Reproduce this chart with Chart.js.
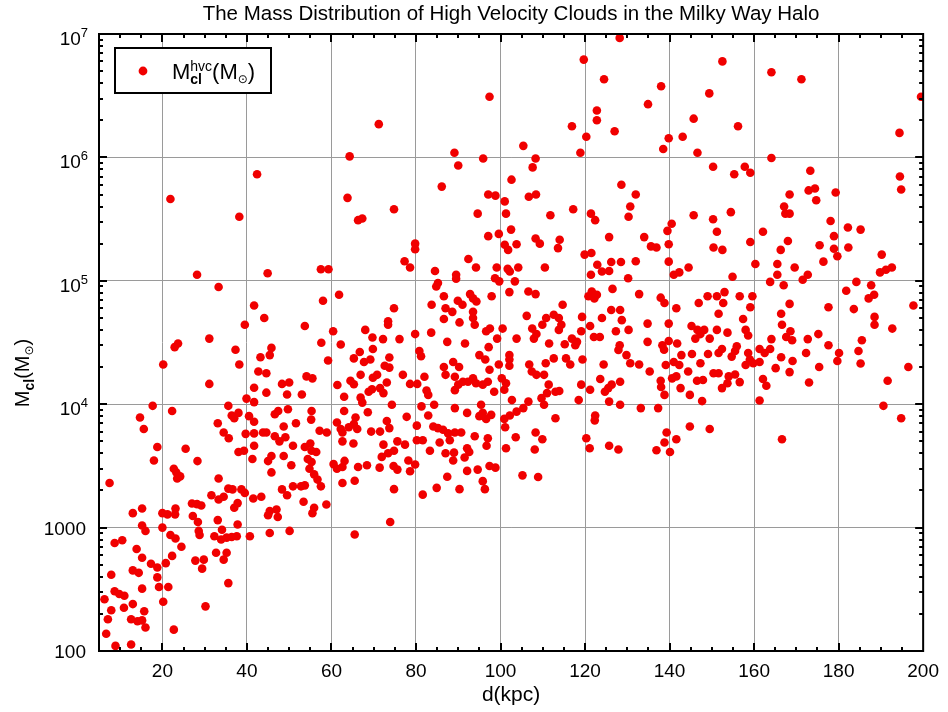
<!DOCTYPE html>
<html>
<head>
<meta charset="utf-8">
<script src="https://cdn.jsdelivr.net/npm/chart.js@4.4.1/dist/chart.umd.min.js"></script>
<style>
  html, body { margin: 0; padding: 0; background: #fff; }
  #wrap { width: 948px; height: 712px; }
</style>
</head>
<body>
<div id="wrap"><canvas id="massChart" width="948" height="712"></canvas></div>
<script>
// distance from the Sun (kpc) and cloud mass (solar masses)
const distanceKpc = [
  21.9, 38.2, 42.4, 28.2, 33.3, 44.9, 57.5, 59.3, 61.8, 58.0, 64.3, 63.8, 66.3, 67.3,
  71.2, 97.4, 89.1, 95.9, 90.0, 105.4, 108.3, 107.6, 118.9, 120.3,
  116.9, 119.7, 128.2, 124.5, 122.8, 122.8, 127.0, 134.9, 74.8, 86.1,
  94.6, 97.1, 98.8, 101.0, 102.6, 101.3, 106.7, 108.4, 111.8, 117.2,
  102.5, 121.4, 122.4, 128.6, 132.0, 130.7, 130.3,
  138.0, 152.5, 164.1, 171.2, 149.4, 145.7, 143.1, 139.8, 138.5, 146.6,
  156.2, 164.1, 194.4, 199.5, 150.3, 155.3, 157.8, 159.1, 173.3, 172.9,
  174.4, 174.7, 168.4, 179.3, 194.5, 194.8, 167.1, 167.4, 168.4, 154.5,
  145.7, 150.3, 140.5, 178.1, 182.2, 185.2,
  97.1, 99.6, 79.8, 79.8, 77.3, 78.6, 84.5, 92.4, 94.2, 89.5,
  89.5, 101.0, 101.8, 103.8, 99.1, 101.7, 102.2, 104.2, 98.7, 99.7,
  103.4, 108.3, 109.3, 114.0, 113.6, 110.5, 125.7, 134.0, 119.9, 121.5,
  122.9, 124.0, 126.2, 128.5, 125.7, 121.4, 132.0, 130.2, 135.6,
  74.8, 73.4, 73.4, 72.2, 76.1, 79.8, 73.7, 72.6, 73.7, 70.8,
  73.1, 71.5, 72.3, 76.9, 78.6, 80.3, 80.8, 81.2, 82.0, 82.5,
  82.9, 83.7, 85.2, 84.8, 86.6, 87.0, 88.6, 86.6, 89.9, 91.0,
  92.8, 93.5, 94.3, 93.5, 93.5, 93.9, 90.3, 83.6, 87.4, 91.6,
  97.9, 102.1, 106.6, 108.3, 96.6, 97.5, 100.5, 99.2, 97.2, 95.0,
  96.4, 102.1, 102.1, 102.1, 99.6, 97.4, 103.8, 106.2, 107.5, 108.5,
  107.9, 109.9, 110.8, 112.6, 113.8, 114.4, 113.8, 114.7, 111.5, 115.2,
  116.9, 118.1, 119.1, 119.3, 117.7, 121.2, 122.1, 123.5, 121.6, 122.8,
  120.8, 122.2, 126.5, 126.2, 128.3, 124.0, 128.7, 127.3, 130.3, 132.8,
  134.8, 134.8, 128.2, 127.9, 129.8, 124.4, 130.7, 132.8, 135.3, 119.4,
  115.5, 116.5, 110.7, 112.6, 106.8, 107.4, 108.5, 110.3, 100.3, 101.3,
  100.9, 98.5, 95.8, 97.0, 93.5, 92.3, 94.2, 89.2, 90.0, 91.1,
  88.8, 90.2, 86.6, 87.0, 89.2, 111.4, 111.0, 113.0, 113.9, 109.7,
  110.3, 119.1, 121.2, 123.6, 125.5, 126.3, 128.3, 124.7, 118.5, 125.7,
  128.3, 106.6, 102.7,
  74.3, 77.8, 73.1, 73.7, 71.5, 81.3, 82.9, 84.1, 85.2, 86.4,
  87.6, 89.2, 90.7, 88.0, 80.2, 84.3, 89.2, 92.1, 95.4, 95.8,
  95.0, 96.6, 97.8, 100.9, 102.2, 103.8, 105.4, 101.1, 93.9, 97.0,
  103.6, 108.3, 109.9, 113.0, 122.4, 122.3, 120.3, 133.2,
  139.5, 151.2, 162.1, 136.9, 139.8, 139.8, 141.0, 142.3, 144.5, 150.4,
  152.5, 154.9, 159.1, 160.3, 168.0, 166.3, 165.5, 165.5, 163.8, 169.6,
  171.5, 172.7, 175.5, 176.4, 178.9, 178.9, 179.7, 182.3, 190.2, 189.8,
  191.2, 192.6, 167.0, 137.9, 138.8, 141.6, 146.9, 149.0, 151.2, 153.0,
  152.7, 156.6, 159.6, 159.1, 151.6, 139.8, 157.4, 158.0, 158.6, 145.2,
  146.6, 148.2, 146.1, 147.3, 151.2, 153.7, 149.5, 139.8, 138.3, 138.7,
  141.8, 142.8, 145.3, 149.1, 151.6, 152.4, 154.7, 155.5, 155.9, 158.6,
  161.3, 162.5, 163.8, 164.1, 166.4, 166.6, 168.4, 167.6, 168.6, 169.0,
  166.4, 169.1, 172.7, 172.3, 175.2, 177.6, 177.6, 181.8, 184.2, 183.6,
  187.7, 188.4, 187.1, 188.5, 188.5, 192.7, 197.7, 185.5, 184.7, 180.1,
  179.7, 185.2, 196.5, 191.6, 190.6, 194.8, 175.4, 173.0, 168.4, 165.1,
  161.3, 159.8, 158.0, 159.0, 162.1, 162.9, 161.3, 154.0, 155.5, 153.7,
  156.6, 152.4, 150.4, 151.6, 146.5, 147.9, 144.4, 147.3, 147.7, 140.6,
  141.6, 137.9, 138.0, 138.8, 142.6, 144.8, 139.1, 141.0, 142.3, 137.3,
  144.8, 149.5, 139.3, 141.6, 166.6,
  41.7, 44.1, 39.5, 31.1, 22.9, 23.7, 20.2, 37.3, 38.2, 31.1,
  53.7, 60.4, 57.6, 62.2, 59.2, 45.8, 45.4, 43.2, 42.7, 44.6,
  41.7, 44.6, 48.3, 50.0, 49.5, 53.0, 54.1, 55.5, 68.0, 69.7,
  66.7, 65.3, 67.7, 69.2, 69.8, 66.9, 64.5, 65.3, 61.4, 63.0,
  66.9, 67.3, 69.8, 69.6, 68.8, 17.7, 14.7, 15.6, 22.3, 18.8,
  18.0, 25.5, 28.3, 22.7, 23.3, 23.5, 35.6, 36.4, 37.0, 38.0,
  39.9, 41.7, 40.5, 41.7, 33.1, 34.5, 35.7, 39.7, 41.7, 43.8,
  44.6, 41.7, 38.0, 39.3, 41.3, 45.0, 45.8, 45.8, 46.6, 47.4,
  49.7, 48.7, 46.6, 47.7, 49.1, 50.9, 51.6, 55.3, 55.2, 48.7,
  50.5, 53.7, 55.0, 55.3, 56.4, 54.4, 55.3, 54.8, 55.9, 57.2,
  58.9, 61.3, 62.2, 62.6, 64.1, 65.7, 65.3, 66.1, 63.0, 62.6,
  65.2, 69.4, 68.6, 60.5, 61.3, 62.6, 63.1, 66.3, 68.4,
  24.2, 33.3, 7.5, 65.5, 62.6, 31.6, 33.3, 34.5, 35.6, 36.6,
  38.7, 39.5, 41.5, 43.4, 48.3, 49.5, 50.9, 52.8, 53.7, 57.5,
  56.7, 53.4, 55.9, 55.5, 58.8, 45.4, 47.0, 47.3, 45.0, 37.8,
  37.0, 27.0, 28.2, 29.2, 27.2, 28.4, 28.6, 28.8, 20.0, 21.2,
  23.0, 23.1, 13.0, 15.2, 15.2, 16.0, 20.0, 21.9, 23.1, 24.5,
  22.3, 20.8, 18.8, 17.3, 15.2, 13.9, 8.7, 10.5, 7.9, 13.0,
  14.4, 18.8, 19.2, 21.4, 15.2, 8.7, 9.8, 11.0, 6.3, 7.9,
  10.9, 13.0, 15.7, 12.6, 14.1, 15.2, 7.1, 16.0, 6.7, 8.9,
  12.6, 22.7, 20.2, 30.2, 35.6, 27.8, 29.8, 29.4, 32.7, 34.5,
  35.2, 32.3, 33.9, 34.1, 35.2, 36.4, 37.6, 33.1, 37.8, 40.7,
  45.4, 50.1, 65.5,
  75.6, 77.4, 72.3, 80.2, 81.6, 85.6, 71.9, 73.4, 74.8, 78.2,
  79.8, 78.6, 71.4, 74.7, 75.6, 83.3, 87.0, 89.0, 88.8, 92.1,
  92.6, 91.5, 96.7, 101.3, 108.1, 121.1, 125.7, 127.9, 87.4, 92.1,
  94.6, 97.4, 98.8, 95.8, 96.3, 90.3, 84.9, 81.6, 74.8, 73.9,
  105.2, 108.9,
  138.8, 136.9, 140.1
];

const cloudMass = [
  4.6e5, 3.3e5, 7.3e5, 1.12e5, 8.9e4, 1.15e5, 1.24e5, 1.24e5, 7.7e4, 6.9e4, 1.02e6, 4.7e5, 3.1e5, 3.2e5,
  1.86e6, 3.1e6, 1.09e6, 9.8e5, 8.6e5, 1.24e6, 9.8e5, 8.3e5, 1.09e6, 1.47e6,
  1.79e6, 6.2e6, 9.3e6, 4.3e6, 2.4e6, 2.0e6, 1.63e6, 2.7e6, 3.8e5, 5.8e5,
  3.5e5, 5.0e5, 4.9e5, 4.4e5, 6.6e5, 3.5e5, 4.8e5, 5.0e5, 3.4e5, 3.8e5,
  2.6e5, 3.5e5, 3.1e5, 6.0e5, 5.0e5, 4.0e5, 3.3e5,
  3.77e6, 6.0e6, 4.9e6, 4.3e6, 3.3e6, 2.06e6, 1.47e6, 1.43e6, 1.17e6, 1.09e6,
  1.79e6, 9.9e5, 1.58e6, 3.1e6, 8.4e5, 7.3e5, 8.4e5, 7.5e5, 7.8e5, 5.4e5,
  5.6e5, 4.5e5, 5.0e5, 5.2e5, 7.0e5, 5.5e5, 4.0e5, 3.5e5, 3.5e5, 3.6e5,
  3.4e5, 3.15e5, 2.9e5, 3.05e5, 2.7e5, 2.6e5,
  2.3e5, 2.4e5, 2.0e5, 1.8e5, 1.44e5, 1.28e5, 1.2e5, 1.5e5, 1.28e5, 1.12e5,
  1.04e5, 1.96e5, 1.78e5, 1.98e5, 1.28e5, 1.25e5, 1.19e5, 1.28e5, 1.05e5, 9.9e4,
  9.9e4, 2.2e5, 2.0e5, 2.15e5, 1.84e5, 1.28e5, 2.26e5, 2.26e5, 1.63e5, 1.68e5,
  1.35e5, 1.19e5, 1.42e5, 1.42e5, 1.2e5, 1.12e5, 1.44e5, 1.05e5, 1.9e5,
  6.0e4, 4.7e4, 4.4e4, 3.37e4, 3.37e4, 3.7e4, 2.39e4, 2.05e4, 1.98e4, 1.73e4,
  1.5e4, 1.35e4, 1.23e4, 1.73e4, 1.46e4, 1.46e4, 2.7e4, 2.45e4, 1.67e4, 1.29e4,
  1.19e4, 6.4e4, 9.6e4, 9.0e4, 7.5e4, 6.0e4, 5.6e4, 4.9e4, 6.9e4, 6.4e4,
  7.8e4, 7.2e4, 6.8e4, 5.6e4, 5.0e4, 4.4e4, 4.6e4, 3.8e4, 3.2e4, 3.1e4,
  7.5e4, 8.1e4, 8.2e4, 7.8e4, 3.9e4, 4.1e4, 4.1e4, 3.4e4, 2.9e4, 2.5e4,
  2.3e4, 2.5e4, 2.3e4, 2.05e4, 2.1e4, 1.9e4, 3.4e4, 5.2e4, 4.1e4, 3.7e4,
  3.4e4, 4.4e4, 5.0e4, 5.3e4, 5.0e4, 4.4e4, 4.0e4, 6.4e4, 3.1e4, 3.06e4,
  3.4e4, 3.2e4, 3.9e4, 5.1e4, 3.0e4, 4.3e4, 3.5e4, 3.5e4, 8.2e4, 7.7e4,
  7.5e4, 7.2e4, 8.6e4, 5.8e4, 5.8e4, 5.0e4, 4.8e4, 3.9e4, 4.0e4, 7.8e4,
  4.5e4, 3.2e4, 3.0e4, 2.75e4, 2.5e4, 2.1e4, 2.15e4, 2.1e4, 1.84e4, 2.3e4,
  2.35e4, 2.1e4, 2.15e4, 2.35e4, 2.1e4, 1.84e4, 1.73e4, 1.73e4, 1.62e4, 1.48e4,
  1.31e4, 1.26e4, 1.44e4, 1.52e4, 1.62e4, 1.52e4, 1.48e4, 1.67e4, 1.44e4, 1.52e4,
  2.2e4, 2.0e4, 2.0e4, 1.73e4, 1.3e4, 1.44e4, 1.23e4, 1.26e4, 1.28e4, 1.12e4,
  9.9e3, 1.44e4, 1.31e4, 1.6e4, 1.35e4, 1.44e4, 1.52e4, 1.26e4, 1.08e4, 1.05e4,
  9.9e3, 1.05e4, 1.08e4,
  9.9e3, 7.9e3, 7.3e3, 6.4e3, 6.0e3, 9.6e3, 8.1e3, 6.6e3, 6.4e3, 6.2e3,
  5.8e3, 5.9e3, 5.9e3, 5.1e3, 6.7e3, 9.9e3, 9.3e3, 8.5e3, 9.9e3, 8.5e3,
  8.0e3, 7.6e3, 8.2e3, 7.6e3, 8.1e3, 8.7e3, 9.3e3, 6.5e3, 5.5e3, 5.3e3,
  5.4e3, 5.9e3, 5.2e3, 7.7e3, 8.1e3, 7.4e3, 5.3e3, 9.3e3,
  2.54e5, 2.5e5, 2.5e5, 1.86e5, 1.98e5, 1.43e5, 1.12e5, 1.17e5, 1.28e5, 1.86e5,
  1.78e5, 1.08e5, 2.06e5, 1.37e5, 2.1e5, 1.78e5, 1.37e5, 1.12e5, 9.8e4, 1.28e5,
  1.02e5, 1.12e5, 1.94e5, 1.43e5, 2.3e5, 1.82e5, 1.58e5, 1.86e5, 1.63e5, 1.17e5,
  1.23e5, 1.28e5, 9.2e4, 7.3e4, 6.6e4, 6.0e4, 6.6e4, 7.5e4, 7.5e4, 8.1e4,
  6.6e4, 7.5e4, 7.5e4, 6.1e4, 5.4e4, 4.5e4, 4.9e4, 4.0e4, 3.6e4, 4.3e4,
  4.0e4, 4.0e4, 3.4e4, 3.7e4, 4.0e4, 3.8e4, 3.4e4, 3.25e4, 3.0e4, 2.76e4,
  3.1e4, 2.5e4, 2.55e4, 2.55e4, 2.6e4, 2.8e4, 2.43e4, 2.7e4, 2.95e4, 2.6e4,
  2.8e4, 2.6e4, 2.8e4, 3.37e4, 5.4e4, 4.4e4, 6.5e4, 3.5e4, 3.9e4, 3.3e4,
  2.4e4, 2.24e4, 3.37e4, 2.6e4, 3.7e4, 6.1e4, 3.0e4, 8.3e4, 9.8e4, 5.9e4,
  9.2e4, 7.7e4, 7.2e4, 5.1e4, 4.4e4, 4.1e4, 6.3e4, 3.3e4, 2.7e4, 2.6e4,
  2.24e4, 2.14e4, 2.0e4, 1.55e4, 9.7e3, 7.7e3, 2.0e4, 1.5e4, 1.82e4, 1.96e4,
  2.2e4, 2.15e4, 2.08e4, 2.3e4, 1.6e4, 1.41e4, 1.07e4, 1.68e4, 1.74e4, 1.48e4,
  1.51e4, 1.35e4, 1.78e4, 1.78e4, 1.55e4, 1.57e4, 1.84e4, 2.15e4, 1.06e4, 1.62e4,
  1.68e4, 1.55e4, 1.38e4, 1.19e4, 1.35e4, 1.19e4, 2.08e4, 2.2e4, 2.08e4, 9.3e3,
  6.6e3, 6.3e3, 5.9e3, 5.2e3, 5.2e3,
  6.3e4, 5.0e4, 4.4e4, 3.4e4, 2.9e4, 3.1e4, 2.1e4, 2.76e4, 2.1e4, 1.46e4,
  4.3e4, 3.9e4, 3.15e4, 3.05e4, 2.26e4, 2.86e4, 2.5e4, 2.4e4, 1.84e4, 1.78e4,
  1.36e4, 1.24e4, 1.46e4, 1.5e4, 1.2e4, 1.2e4, 1.68e4, 1.62e4, 4.0e4, 3.47e4,
  2.65e4, 2.35e4, 2.2e4, 2.3e4, 2.8e4, 1.73e4, 1.55e4, 1.45e4, 1.43e4, 1.15e4,
  1.13e4, 1.03e4, 1.64e4, 1.32e4, 1.26e4, 9.7e3, 7.8e3, 6.3e3, 8.8e3, 4.5e3,
  3.5e3, 4.36e3, 3.46e3, 3.0e3, 2.8e3, 2.5e3, 9.7e3, 8.1e3, 7.7e3, 8.5e3,
  1.11e4, 1.04e4, 8.0e3, 7.2e3, 7.0e3, 5.9e3, 5.3e3, 5.75e3, 5.8e3, 5.9e3,
  5.9e3, 4.6e3, 4.1e3, 4.2e3, 3.6e3, 3.46e3, 3.8e3, 2.8e3, 8.3e3, 8.8e3,
  9.1e3, 6.6e3, 5.5e3, 5.0e3, 5.4e3, 4.6e3, 7.0e3, 8.8e3, 7.5e3, 3.8e3,
  3.2e3, 4.5e3, 4.8e3, 4.2e3, 4.1e3, 3.6e3, 3.4e3, 3.0e3, 2.7e3, 6.1e3,
  5.9e3, 7.1e3, 6.3e3, 5.9e3, 6.5e3, 7.8e3, 6.9e3, 6.3e3, 8.8e3, 5.0e3,
  4.8e3, 6.0e3, 8.6e3, 3.27e3, 3.0e3, 3.1e3, 3.47e3, 3.1e3, 3.2e3,
  2.6e3, 2.5e3, 2.3e3, 2.4e3, 2.3e3, 1.83e3, 1.69e3, 1.78e3, 2.07e3, 2.04e3,
  2.04e3, 1.91e3, 1.72e3, 1.78e3, 2.04e3, 1.83e3, 2.16e3, 2.16e3, 2.2e3, 2.16e3,
  2.45e3, 1.62e3, 1.45e3, 1.31e3, 1.54e3, 1.36e3, 1.4e3, 1.22e3, 1.26e3, 1.58e3,
  1.45e3, 1.57e3, 1.55e3, 1.51e3, 1.24e3, 1.11e3, 940, 870, 1.31e3, 1.28e3,
  1.28e3, 1.43e3, 1.31e3, 1.43e3, 1.04e3, 940, 1000, 870, 815, 700,
  590, 515, 475, 510, 570, 670, 750, 790, 415, 450,
  430, 395, 330, 330, 320, 305, 290, 280, 263, 214,
  224, 240, 210, 181, 174, 177, 181, 155, 138, 110,
  113, 149, 251, 230, 355, 540, 550, 465, 625, 550,
  625, 850, 800, 960, 830, 840, 850, 1.15e3, 1.06e3, 850,
  905, 940, 880,
  5.0e3, 4.7e3, 4.7e3, 5.1e3, 5.1e3, 4.9e3, 3.74e3, 4.0e3, 4.2e3, 3.5e3,
  3.25e3, 2.86e3, 3.06e3, 3.16e3, 2.95e3, 4.2e3, 4.0e3, 4.05e3, 3.5e3, 4.4e3,
  4.1e3, 3.7e3, 4.6e3, 4.4e3, 4.3e3, 4.4e3, 4.6e3, 4.3e3, 2.58e3, 2.88e3,
  2.95e3, 3.16e3, 3.06e3, 2.38e3, 2.05e3, 2.05e3, 2.1e3, 1.85e3, 2.05e3, 1.11e3,
  2.65e3, 2.57e3,
  4.9e3, 4.24e3, 4.1e3
];

const xTickValues = [20, 40, 60, 80, 100, 120, 140, 160, 180, 200];
const yTickValues = [1e2, 1e3, 1e4, 1e5, 1e6, 1e7];
const yTickLabels = [['100', ''], ['1000', ''], ['10', '4'], ['10', '5'], ['10', '6'], ['10', '7']];

const titleText = 'The Mass Distribution of High Velocity Clouds in the Milky Way Halo';
const FONT = '"Liberation Sans", "DejaVu Sans", sans-serif';
const RED = '#f00000';

const points = distanceKpc.map((d, i) => ({ x: d, y: cloudMass[i] }));

// draw a run of text pieces: [text, size, dy, bold]; a piece with .stack draws sub+sup on top of each other
function pieceWidth(ctx, p) {
  if (p.stack) {
    ctx.font = 'bold ' + p.size + 'px ' + FONT;
    const a = ctx.measureText(p.sub).width;
    ctx.font = p.size + 'px ' + FONT;
    const b = ctx.measureText(p.sup).width;
    return Math.max(a, b);
  }
  ctx.font = (p[3] ? 'bold ' : '') + p[1] + 'px ' + FONT;
  return ctx.measureText(p[0]).width;
}

function drawRich(ctx, x, y, pieces, align) {
  const widths = pieces.map(p => pieceWidth(ctx, p));
  const total = widths.reduce((s, w) => s + w, 0);
  let cx = align === 'center' ? x - total / 2 : (align === 'right' ? x - total : x);
  ctx.textAlign = 'left';
  ctx.textBaseline = 'alphabetic';
  pieces.forEach((p, i) => {
    if (p.stack) {
      ctx.font = 'bold ' + p.size + 'px ' + FONT;
      ctx.fillText(p.sub, cx, y + p.subDy);
      ctx.font = p.size + 'px ' + FONT;
      ctx.fillText(p.sup, cx, y + p.supDy);
    } else {
      ctx.font = (p[3] ? 'bold ' : '') + p[1] + 'px ' + FONT;
      ctx.fillText(p[0], cx, y + p[2]);
    }
    cx += widths[i];
  });
}

const decorations = {
  id: 'decorations',
  afterDatasetsDraw(chart) {
    const { ctx, chartArea: a, scales: { x, y } } = chart;
    ctx.save();
    ctx.strokeStyle = '#000';
    ctx.fillStyle = '#000';
    ctx.lineWidth = 2;

    // inward tick marks on all four sides
    ctx.beginPath();
    for (let v = 10; v < 200; v += 5) {
      const len = v % 20 === 0 ? 8 : 4;
      const px = Math.round(x.getPixelForValue(v));
      ctx.moveTo(px, a.bottom); ctx.lineTo(px, a.bottom - len);
      ctx.moveTo(px, a.top); ctx.lineTo(px, a.top + len);
    }
    for (let d = 100; d < 1e7; d *= 10) {
      for (let m = 1; m < 10; m++) {
        const v = d * m;
        if (m === 1 && d === 100) continue;
        const len = m === 1 ? 8 : 4;
        const py = Math.round(y.getPixelForValue(v));
        ctx.moveTo(a.left, py); ctx.lineTo(a.left + len, py);
        ctx.moveTo(a.right, py); ctx.lineTo(a.right - len, py);
      }
    }
    ctx.stroke();
    ctx.strokeRect(a.left, a.top, a.right - a.left, a.bottom - a.top);

    // y tick labels with superscripts
    yTickValues.forEach((v, i) => {
      const py = y.getPixelForValue(v);
      const [base, exp] = yTickLabels[i];
      if (!exp) {
        drawRich(ctx, 86, py + 7, [[base, 19, 0]], 'right');
      } else {
        drawRich(ctx, 88, py + 11, [[base, 19, 0], [exp, 13, -8]], 'right');
      }
    });

    // title
    drawRich(ctx, (a.left + a.right) / 2, 19.5, [[titleText, 20.5, 0]], 'center');

    // axis titles
    drawRich(ctx, (a.left + a.right) / 2, 701, [['d(kpc)', 21, 0]], 'center');
    ctx.save();
    ctx.translate(29, 373);
    ctx.rotate(-Math.PI / 2);
    drawRich(ctx, 0, 0, [['M', 20, 0], ['cl', 14, 5, true], ['(M', 20, 0], ['\u2299', 12, 4], [')', 20, 0]], 'center');
    ctx.restore();

    // legend box
    ctx.fillStyle = '#fff';
    ctx.fillRect(116, 49, 154, 43);
    ctx.strokeRect(115, 48, 156, 45);
    ctx.fillStyle = chart.data.datasets[0].backgroundColor;
    ctx.beginPath();
    ctx.arc(143, 71, 4.4, 0, Math.PI * 2);
    ctx.fill();
    ctx.fillStyle = '#000';
    drawRich(ctx, 172, 78.5, [
      ['M', 22, 0],
      { stack: true, sub: 'cl', sup: 'hvc', size: 14, subDy: 5, supDy: -8 },
      ['(M', 22, 0], ['\u2299', 12, 4], [')', 22, 0]
    ], 'left');

    ctx.restore();
  }
};

new Chart(document.getElementById('massChart'), {
  type: 'scatter',
  data: {
    datasets: [{
      label: 'Mcl hvc (M\u2299)',
      data: points,
      backgroundColor: RED,
      borderWidth: 0,
      pointRadius: 4.3,
      pointHoverRadius: 4.3
    }]
  },
  options: {
    responsive: false,
    animation: false,
    events: [],
    layout: { padding: { left: 0, right: 20, top: 34, bottom: 0 } },
    plugins: { legend: { display: false }, tooltip: { enabled: false }, title: { display: false } },
    scales: {
      x: {
        type: 'linear',
        min: 5,
        max: 200,
        afterFit(scale) { scale.height = 61; },
        afterBuildTicks(scale) { scale.ticks = xTickValues.map(v => ({ value: v })); },
        border: { display: false },
        grid: { color: '#9a9a9a', lineWidth: 1, drawTicks: false },
        ticks: { color: '#000', padding: 9, maxRotation: 0, autoSkip: false, font: { family: FONT, size: 19 } }
      },
      y: {
        type: 'logarithmic',
        min: 100,
        max: 1e7,
        afterFit(scale) { scale.width = 99; },
        afterBuildTicks(scale) { scale.ticks = yTickValues.map(v => ({ value: v })); },
        border: { display: false },
        grid: { color: '#9a9a9a', lineWidth: 1, drawTicks: false },
        ticks: { display: false }
      }
    }
  },
  plugins: [decorations]
});
</script>
</body>
</html>
